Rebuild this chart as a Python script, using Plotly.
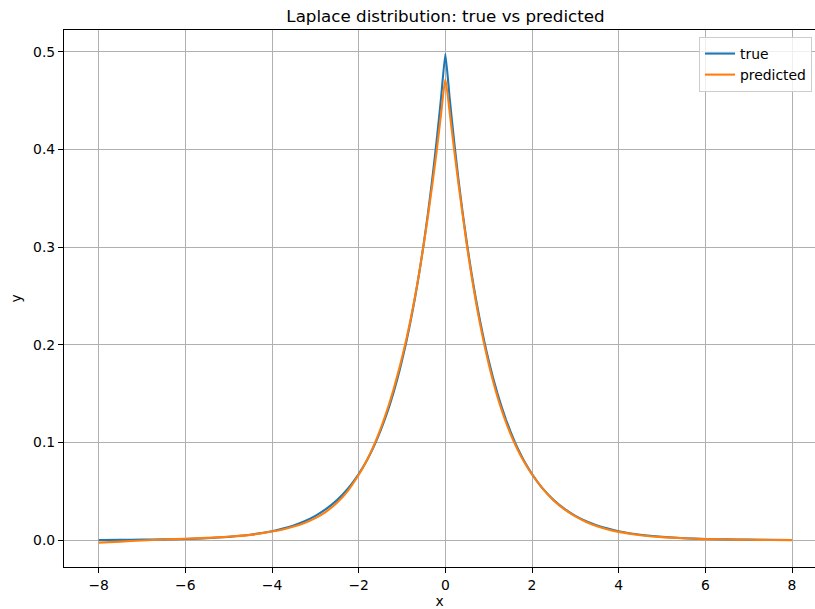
import plotly.graph_objects as go

x_vals = [-8.0, -7.5, -7.0, -6.5, -6.0, -5.5, -5.0, -4.5, -4.0, -3.75, -3.5, -3.25,
          -3.0, -2.75, -2.5, -2.25,
          -2.0, -1.9, -1.8, -1.7, -1.6, -1.5, -1.4, -1.3, -1.2, -1.1,
          -1.0, -0.9, -0.8, -0.7, -0.6, -0.5, -0.4, -0.3, -0.2, -0.1,
          0.0, 0.1, 0.2, 0.3, 0.4, 0.5, 0.6, 0.7, 0.8, 0.9,
          1.0, 1.1, 1.2, 1.3, 1.4, 1.5, 1.6, 1.7, 1.8, 1.9, 2.0,
          2.25, 2.5, 2.75, 3.0, 3.25, 3.5, 3.75, 4.0, 4.5, 5.0, 5.5, 6.0, 6.5, 7.0, 7.5, 8.0]

true_vals = [0.0002, 0.0003, 0.0005, 0.0008, 0.0012, 0.0020, 0.0034, 0.0056, 0.0092, 0.0118, 0.0151, 0.0194,
             0.0249, 0.0320, 0.0410, 0.0527,
             0.0677, 0.0748, 0.0826, 0.0913, 0.1009, 0.1116, 0.1233, 0.1363, 0.1506, 0.1664,
             0.1839, 0.2033, 0.2247, 0.2483, 0.2744, 0.3033, 0.3352, 0.3704, 0.4094, 0.4524,
             0.4980, 0.4524, 0.4094, 0.3704, 0.3352, 0.3033, 0.2744, 0.2483, 0.2247, 0.2033,
             0.1839, 0.1664, 0.1506, 0.1363, 0.1233, 0.1116, 0.1009, 0.0913, 0.0826, 0.0748, 0.0677,
             0.0527, 0.0410, 0.0320, 0.0249, 0.0194, 0.0151, 0.0118, 0.0092, 0.0056, 0.0034, 0.0020,
             0.0012, 0.0008, 0.0005, 0.0003, 0.0002]

pred_vals = [-0.0025, -0.0015, -0.0004, 0.0006, 0.0014, 0.0023, 0.0035, 0.0054, 0.0088, 0.0110, 0.0139, 0.0176,
             0.0226, 0.0293, 0.0383, 0.0505,
             0.0670, 0.0745, 0.0828, 0.0920, 0.1022, 0.1135, 0.1258, 0.1392, 0.1538, 0.1698,
             0.1870, 0.2058, 0.2266, 0.2495, 0.2748, 0.3026, 0.3325, 0.3644, 0.3985, 0.4360,
             0.4720, 0.4380, 0.4010, 0.3660, 0.3330, 0.3010, 0.2720, 0.2455, 0.2215, 0.2000,
             0.1805, 0.1630, 0.1472, 0.1332, 0.1205, 0.1092, 0.0990, 0.0898, 0.0816, 0.0742, 0.0675,
             0.0525, 0.0407, 0.0315, 0.0243, 0.0186, 0.0142, 0.0110, 0.0085, 0.0051, 0.0031, 0.0019,
             0.0011, 0.0007, 0.0004, 0.0002, 0.0000]

x_ticks = [-8, -6, -4, -2, 0, 2, 4, 6, 8]
y_ticks = [0.0, 0.1, 0.2, 0.3, 0.4, 0.5]

FONT = "DejaVu Sans"

fig = go.Figure()
fig.add_trace(go.Scatter(x=x_vals, y=true_vals, mode="lines", name="true",
                         line=dict(color="#1f77b4", width=2.1, shape="spline", smoothing=0.4)))
fig.add_trace(go.Scatter(x=x_vals, y=pred_vals, mode="lines", name="predicted",
                         line=dict(color="#ff7f0e", width=2.1, shape="spline", smoothing=0.6)))

axis_common = dict(
    showgrid=True, gridcolor="#b0b0b0", gridwidth=1.1,
    zeroline=False, showline=True, linecolor="black", linewidth=1.1,
    ticks="outside", ticklen=5, tickwidth=1.1, tickcolor="black",
    tickfont=dict(family=FONT, size=13.9, color="black"),
    automargin=False,
)

fig.update_layout(
    width=815, height=609,
    margin=dict(l=64, r=0, t=30, b=42),
    paper_bgcolor="white", plot_bgcolor="white",
    font=dict(family=FONT, color="black"),
    title=dict(text="Laplace distribution: true vs predicted", x=(64 + 815 + 12) / 2 / 815,
               xanchor="center", y=1 - 16 / 609, yanchor="middle",
               font=dict(family=FONT, size=16.7, color="black")),
    xaxis=dict(range=[-8.8, 8.53], tickvals=x_ticks, mirror=True,
               title=dict(text="x", font=dict(family=FONT, size=13.9), standoff=12),
               **axis_common),
    yaxis=dict(range=[-0.0275, 0.5225], tickvals=y_ticks, tickformat=".1f",
               title=dict(text="y", font=dict(family=FONT, size=13.9), standoff=8),
               **axis_common),
    legend=dict(x=(699 - 64) / 751, xanchor="left", y=1 - 7 / 537, yanchor="top",
                bgcolor="rgba(255,255,255,0.8)", bordercolor="#cccccc", borderwidth=1,
                font=dict(family=FONT, size=13.9, color="black"),
                itemwidth=30, tracegroupgap=0),
    showlegend=True,
)

fig.write_html("out.html")
